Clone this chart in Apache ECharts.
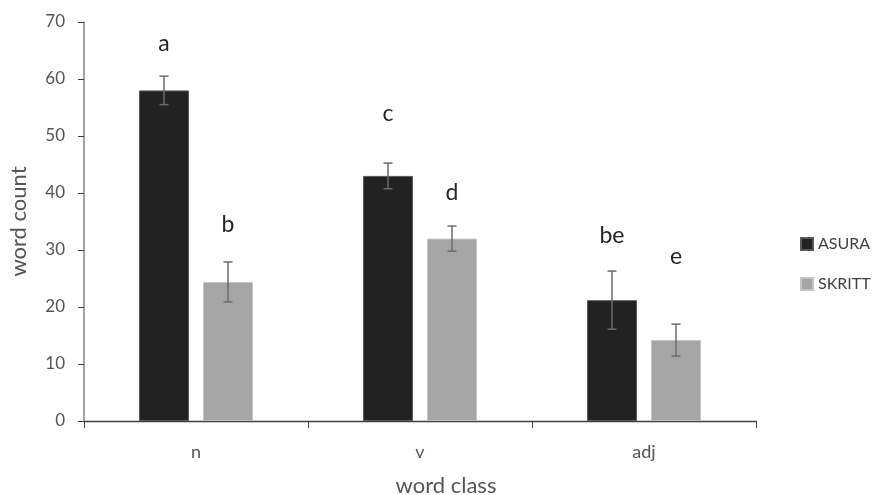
<!DOCTYPE html>
<html>
<head>
<meta charset="utf-8">
<script src="https://cdn.jsdelivr.net/npm/echarts@6/dist/echarts.min.js"></script>
<style>html,body{margin:0;padding:0;background:#fff;}#c{width:875px;height:495px;}</style>
</head>
<body>
<div id="c"></div>
<script>
var categories = ['n', 'v', 'adj'];
var seriesNames = ['ASURA', 'SKRITT'];
var asuraValues = [58.0, 43.0, 21.2];
var skrittValues = [24.4, 32.0, 14.2];
var asuraErr = [2.5, 2.25, 5.1];
var skrittErr = [3.5, 2.2, 2.8];
var asuraLetters = ['a', 'c', 'be'];
var skrittLetters = ['b', 'd', 'e'];
var asuraLetterY = [66.3, 54.0, 32.6];
var skrittLetterY = [34.4, 40.0, 28.8];
var yTicks = [0, 10, 20, 30, 40, 50, 60, 70];

var FONT = 'Lato, "Open Sans", sans-serif';
var BAR_W = 50, BAR_GAP = 0.28;
var OFFSET = BAR_W * (1 + BAR_GAP) / 2;

function errData(vals, errs) {
  return vals.map(function (v, i) { return [i, v - errs[i], v + errs[i]]; });
}
function letterData(ys) {
  return ys.map(function (y, i) { return [i, y]; });
}
function errRender(off) {
  return function (params, api) {
    var x = api.value(0);
    var lo = api.coord([x, api.value(1)]);
    var hi = api.coord([x, api.value(2)]);
    var cx = lo[0] + off, w = 4.5;
    var st = { stroke: '#6b6b6b', lineWidth: 1.5 };
    return { type: 'group', children: [
      { type: 'line', shape: { x1: cx, y1: lo[1], x2: cx, y2: hi[1] }, style: st },
      { type: 'line', shape: { x1: cx - w, y1: hi[1], x2: cx + w, y2: hi[1] }, style: st },
      { type: 'line', shape: { x1: cx - w, y1: lo[1], x2: cx + w, y2: lo[1] }, style: st }
    ]};
  };
}
function letterRender(off, letters) {
  return function (params, api) {
    var p = api.coord([api.value(0), api.value(1)]);
    return { type: 'text', x: p[0] + off, y: p[1],
      style: { text: letters[params.dataIndex], fill: '#262626', font: '23px ' + FONT,
        textAlign: 'center', textVerticalAlign: 'middle' } };
  };
}

var chart = echarts.init(document.getElementById('c'));
chart.setOption({
  animation: false,
  grid: { left: 83, right: 119, top: 22, bottom: 74 },
  legend: {
    orient: 'vertical', left: 795, top: 231,
    itemWidth: 12, itemHeight: 12, itemGap: 24,
    icon: 'rect',
    data: seriesNames,
    textStyle: { fontSize: 16, color: '#404040', fontFamily: FONT }
  },
  xAxis: {
    type: 'category', data: categories,
    axisLine: { lineStyle: { color: '#404040', width: 1.3 } },
    axisTick: { show: true, length: 7, lineStyle: { color: '#404040' } },
    axisLabel: { fontSize: 18, color: '#555555', margin: 22, fontFamily: FONT },
    splitLine: { show: false }
  },
  yAxis: {
    type: 'value', min: 0, max: 70, interval: 10,
    name: 'word count', nameLocation: 'middle', nameGap: 54,
    nameTextStyle: { fontSize: 22, color: '#555555', fontFamily: FONT },
    axisLine: { show: true, lineStyle: { color: '#868686', width: 1.5 } },
    axisTick: { show: true, length: 6, lineStyle: { color: '#404040' } },
    axisLabel: { fontSize: 17, color: '#555555', margin: 19, fontFamily: FONT,
      formatter: function (v) { return yTicks.indexOf(v) >= 0 ? String(v) : ''; } },
    splitLine: { show: false }
  },
  graphic: [{
    type: 'text', x: 446, y: 486,
    style: { text: 'word class', fill: '#555555', font: '22px ' + FONT,
      textAlign: 'center', textVerticalAlign: 'middle' }
  }],
  series: [
    { name: 'ASURA', type: 'bar', data: asuraValues, barWidth: BAR_W, barGap: (BAR_GAP * 100) + '%',
      itemStyle: { color: '#222222', borderColor: '#5a5a5a', borderWidth: 1 } },
    { name: 'SKRITT', type: 'bar', data: skrittValues, barWidth: BAR_W,
      itemStyle: { color: '#a5a5a5', borderColor: '#c4c4c4', borderWidth: 1 } },
    { type: 'custom', renderItem: errRender(-OFFSET), data: errData(asuraValues, asuraErr), z: 5, silent: true },
    { type: 'custom', renderItem: errRender(OFFSET), data: errData(skrittValues, skrittErr), z: 5, silent: true },
    { type: 'custom', renderItem: letterRender(-OFFSET, asuraLetters), data: letterData(asuraLetterY), z: 6, silent: true },
    { type: 'custom', renderItem: letterRender(OFFSET, skrittLetters), data: letterData(skrittLetterY), z: 6, silent: true }
  ]
});
</script>
</body>
</html>
